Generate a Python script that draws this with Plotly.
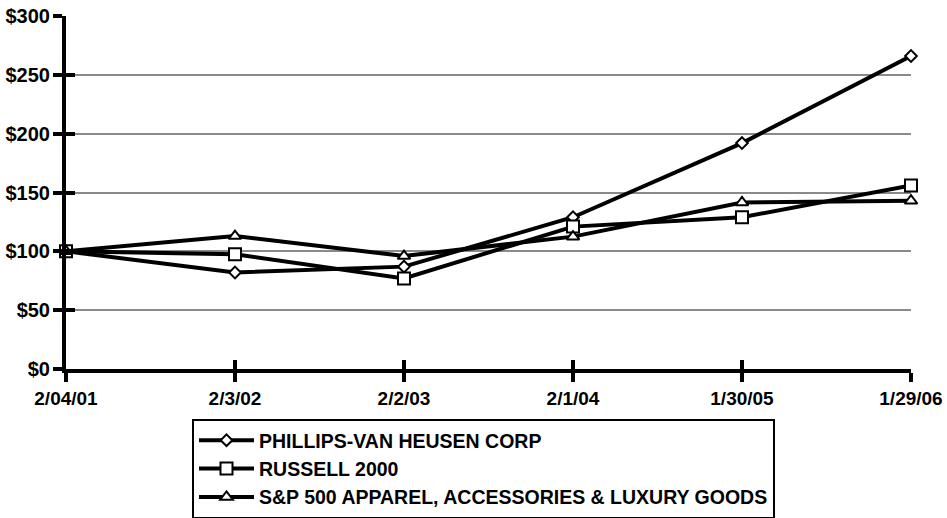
import plotly.graph_objects as go

dates = ["2/04/01", "2/3/02", "2/2/03", "2/1/04", "1/30/05", "1/29/06"]
pvh = [100, 82, 87, 129, 192, 266]
russell = [100, 97.5, 77, 121, 129, 156]
sp_apparel = [100, 113, 96, 112.5, 141.5, 143]
ytick_vals = [0, 50, 100, 150, 200, 250, 300]
ytick_text = ["$0", "$50", "$100", "$150", "$200", "$250", "$300"]

names = ["PHILLIPS-VAN HEUSEN CORP", "RUSSELL 2000",
         "S&P 500 APPAREL, ACCESSORIES & LUXURY GOODS"]
symbols = ["diamond", "square", "triangle-up"]
sizes = [9, 12, 11]
series = [pvh, russell, sp_apparel]

xs = list(range(len(dates)))
FONT = "Liberation Sans, Arial, sans-serif"
W, H = 947, 518

fig = go.Figure()
for i, (nm, sym, sz, vals) in enumerate(zip(names, symbols, sizes, series)):
    fig.add_trace(go.Scatter(
        x=xs, y=vals, name=nm, mode="lines+markers",
        line=dict(color="black", width=4),
        marker=dict(symbol=sym, size=sz, color="white",
                    line=dict(color="black", width=2)),
        cliponaxis=False, legendgroup=f"g{i}",
    ))

axis_common = dict(showline=True, linecolor="black", linewidth=4,
                   ticks="outside", tickcolor="black", tickwidth=4, ticklen=9,
                   zeroline=False, automargin=False)

fig.update_layout(
    width=W, height=H,
    margin=dict(l=66, r=W - 911, t=16, b=H - 369, autoexpand=False),
    paper_bgcolor="white", plot_bgcolor="white",
    font=dict(family=FONT, size=15, color="black"),
    xaxis=dict(range=[0, 5], tickvals=xs, ticktext=dates, showgrid=False,
               tickfont=dict(family=FONT, size=19, color="black", weight="bold"),
               ticklabeloverflow="allow", **axis_common),
    yaxis=dict(range=[0, 300], tickvals=ytick_vals, ticktext=ytick_text,
               showgrid=True, gridcolor="#8a8a8a", gridwidth=1.5,
               tickfont=dict(family=FONT, size=20, color="black", weight="bold"),
               ticklabeloverflow="allow", ticklabelstandoff=-1, **axis_common),
    xaxis2=dict(overlaying="x", range=[0, 5], tickvals=xs, showticklabels=False,
                showgrid=False, zeroline=False, ticks="inside", ticklen=9,
                tickwidth=4, tickcolor="black", anchor="y", automargin=False),
    yaxis2=dict(overlaying="y", range=[0, 300], tickvals=ytick_vals,
                showticklabels=False, showgrid=False, zeroline=False,
                ticks="inside", ticklen=9, tickwidth=4, tickcolor="black",
                anchor="x", automargin=False),
    legend=dict(xref="container", yref="container",
                x=192 / W, y=1 - 419 / H,
                xanchor="left", yanchor="top",
                bordercolor="black", borderwidth=2, bgcolor="white",
                traceorder="grouped", tracegroupgap=0, itemwidth=55,
                font=dict(family=FONT, size=19.5, color="black", weight="bold")),
    showlegend=True,
)
# invisible trace to activate overlay axes for crossing ticks
fig.add_trace(go.Scatter(x=[0], y=[0], xaxis="x2", yaxis="y2", mode="markers",
                         marker=dict(opacity=0), showlegend=False,
                         hoverinfo="skip"))

fig.write_html("out.html", config={"displayModeBar": False},
               post_script="document.body.style.margin='0';"
                           "document.body.style.overflow='hidden';")
